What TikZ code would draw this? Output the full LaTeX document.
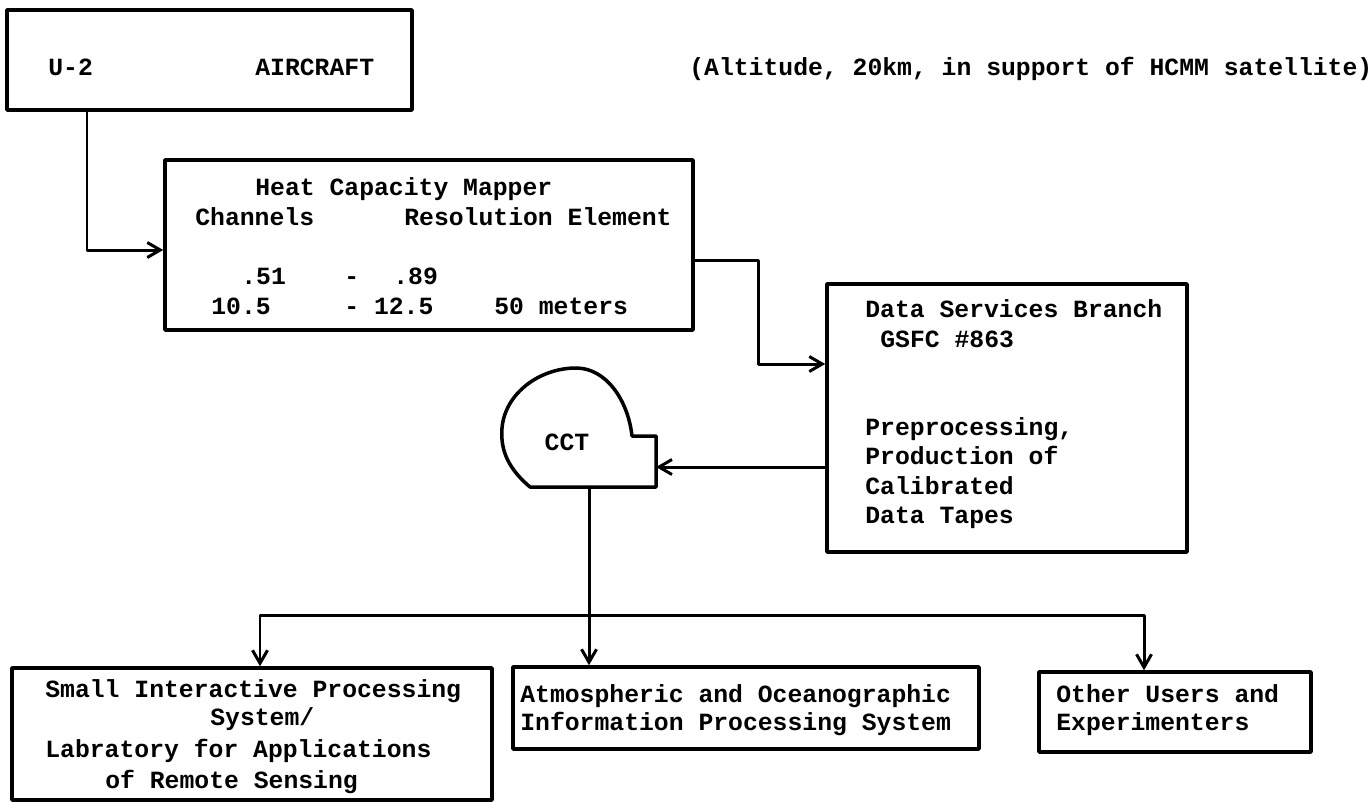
\documentclass[tikz,border=0pt]{standalone}
\usepackage{fontspec}
\newfontfamily\typefont{Liberation Mono}
\usetikzlibrary{arrows.meta}

\tikzset{
	box/.style={draw, line width=2pt, inner sep=0pt},
	lbl/.style={anchor=base west, inner sep=0pt},
	conn/.style={line width=1.7pt, -{Straight Barb[length=2.6mm,width=3mm]}}
}

\begin{document}
\begin{tikzpicture}[
			x=0.2mm, y=-0.2mm,
			every node/.style={font=\typefont\bfseries\fontsize{14.08}{17}\selectfont},
			line cap=round,
			line join=round
			]
			\useasboundingbox (0,0) rectangle (1372,803);
			
			% Boxes
			\node[box, minimum width=81mm, minimum height=20mm] (air) at (209.5,60) {};
			\node[box, minimum width=105.6mm, minimum height=34mm] (hcm) at (429,245) {};
			\node[box, minimum width=72mm, minimum height=53.6mm] (dsb) at (1007,418) {};
			\node[box, minimum width=96mm, minimum height=26.4mm] (sips) at (252,734) {};
			\node[box, minimum width=93.2mm, minimum height=16.4mm] (aoips) at (746,708) {};
			\node[box, minimum width=54.4mm, minimum height=16mm] (other) at (1175,712) {};
			
			% Aircraft line
			\node[lbl] (u2) at (48,75) {U-2};
			\node[lbl] (craft) at (255,75) {AIRCRAFT};
			\node[lbl] (alt) at (689,75) {(Altitude, 20km, in support of HCMM satellite)};
			
			% Heat Capacity Mapper, typed in columns
			\node[lbl] (hcmtitle) at (255,195) {Heat Capacity Mapper};
			\node[lbl] (chan) at (195,225) {Channels};
			\node[lbl] (res) at (404,225) {Resolution Element};
			\node[lbl] (lo1) at (241,284) {.51};
			\node[lbl] (dash1) at (344,284) {-};
			\node[lbl] (hi1) at (393,284) {.89};
			\node[lbl] (lo2) at (211,314) {10.5};
			\node[lbl] (hi2) at (344,314) {- 12.5};
			\node[lbl] (meters) at (494,314) {50 meters};
			
			% Data Services Branch
			\node[lbl] (dsbname) at (865,317) {Data Services Branch};
			\node[lbl] (gsfc) at (880,347) {GSFC \#863};
			\foreach \txt [count=\i] in {{Preprocessing,}, Production of, Calibrated, Data Tapes}
				\node[lbl] (prep\i) at (865,{405.5+29.6*\i}) {\txt};
			
			% Tape reel
			\draw[line width=2pt]
			(530,487) .. controls (510,470) and (500,452) .. (502,428)
			.. controls (505,393) and (540,368) .. (576,368)
			.. controls (606,368) and (628,400) .. (632,436)
			-- (656,436) -- (656,487) -- cycle;
			\node (cct) at (567,442) {CCT};
			\coordinate (cctE) at (656,467);
			\coordinate (cctS) at (589,487);
			
			% Users
			\node[lbl] (sips1) at (45,697) {Small Interactive Processing};
			\node[lbl] (sips2) at (210,725) {System/};
			\node[lbl] (sips3) at (45,757) {Labratory for Applications};
			\node[lbl] (sips4) at (105,788) {of Remote Sensing};
			\node[lbl] (aoips1) at (520,702) {Atmospheric and Oceanographic};
			\node[lbl] (aoips2) at (520,730) {Information Processing System};
			\node[lbl] (other1) at (1056,702) {Other Users and};
			\node[lbl] (other2) at (1056,730) {Experimenters};
			
			% Connectors
			\coordinate (kneeA) at (758,260);
			\coordinate (split) at (589,615);
			\draw[conn] (air.south -| 87,0) |- (hcm.west |- 0,250);
			\draw[conn] (hcm.east |- kneeA) -- (kneeA) |- (dsb.west |- 0,364);
			\draw[conn] (dsb.west |- cctE) -- (cctE);
			\draw[conn] (cctS) -- (aoips.north -| cctS);
			\draw[conn] (split) -| (sips.north -| 260,0);
			\draw[conn] (split) -| (other.north -| 1144,0);
		\end{tikzpicture}
\end{document}
